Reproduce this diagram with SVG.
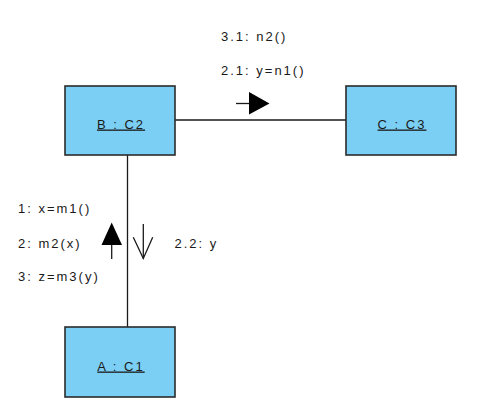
<svg xmlns="http://www.w3.org/2000/svg" width="483" height="406" viewBox="0 0 483 406">
<style>
.box{fill:#7bcff5;stroke:#2b2b2b;stroke-width:1.6}
.t{font-family:"Liberation Sans",Arial,sans-serif;font-size:13px;letter-spacing:2px;fill:#1a1a1a}
.n{text-anchor:middle;text-decoration:underline}
.ln{stroke:#1a1a1a;stroke-width:1.3;fill:none}
</style>
<rect width="483" height="406" fill="#ffffff"/>
<g id="connectors">
<line class="ln" x1="175" y1="120" x2="346" y2="120"/>
<line class="ln" x1="127.5" y1="155" x2="127.5" y2="327"/>
<line class="ln" x1="236" y1="103.5" x2="250" y2="103.5"/>
<polygon points="249,92 269.5,103.5 249,114.5" fill="#000"/>
<line class="ln" x1="111.7" y1="244" x2="111.7" y2="259"/>
<polygon points="101.5,245 111.7,222.5 122,245" fill="#000"/>
<line class="ln" x1="143.3" y1="224" x2="143.3" y2="258.5"/>
<polyline class="ln" points="133.3,237.3 143.3,258.5 152.7,237.3"/>
<text class="t" x="221" y="41">3.1: n2()</text>
<text class="t" x="221" y="75">2.1: y=n1()</text>
<text class="t" x="18" y="212.5">1: x=m1()</text>
<text class="t" x="18" y="247.5">2: m2(x)</text>
<text class="t" x="18" y="281">3: z=m3(y)</text>
<text class="t" x="174.5" y="247.5">2.2: y</text>
</g>
<g id="B">
<rect class="box" x="65" y="86" width="110" height="69"/>
<text class="t n" x="121" y="128.5">B : C2</text>
</g>
<g id="C">
<rect class="box" x="346" y="86" width="110" height="69"/>
<text class="t n" x="402" y="128.5">C : C3</text>
</g>
<g id="A">
<rect class="box" x="65" y="327" width="110" height="70"/>
<text class="t n" x="121" y="370.5">A : C1</text>
</g>
</svg>
